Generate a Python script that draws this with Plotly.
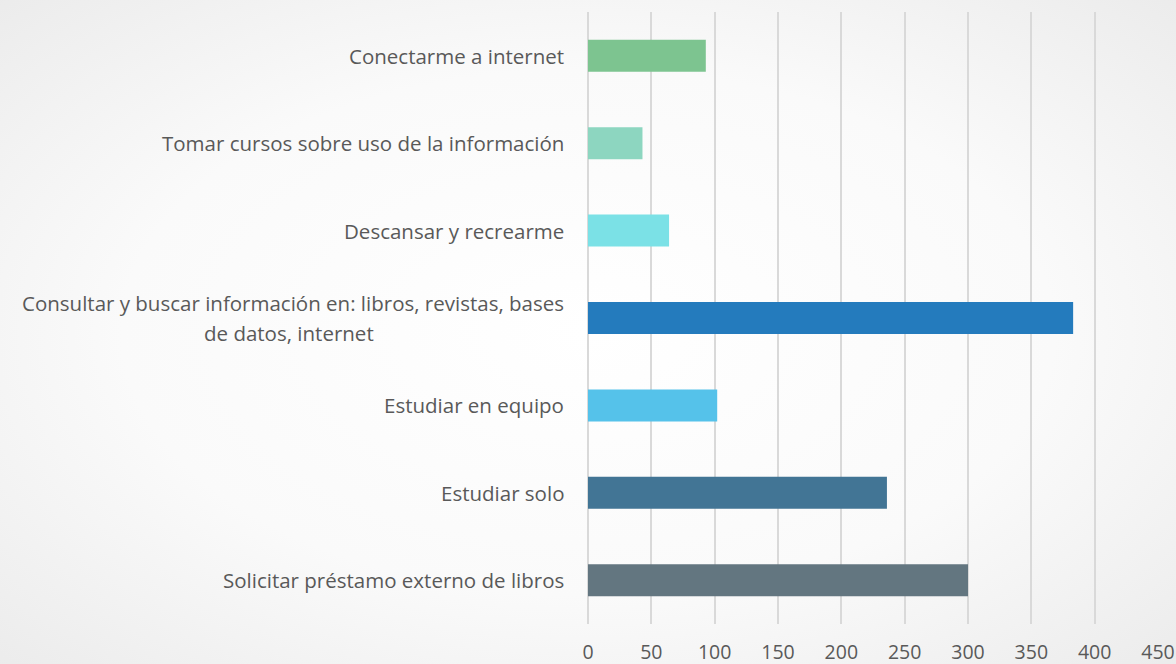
import base64
import plotly.graph_objects as go

categories = [
    "Solicitar préstamo externo de libros",
    "Estudiar solo",
    "Estudiar en equipo",
    "Consultar y buscar información en: libros, revistas, bases<br>de datos, internet",
    "Descansar y recrearme",
    "Tomar cursos sobre uso de la información",
    "Conectarme a internet",
]
values = [300, 236, 102, 383, 64, 43, 93]
colors = ["#637680", "#427595", "#55C2EA", "#247BBD", "#7BE1E6", "#8DD6C0", "#7DC490"]
x_ticks = [0, 50, 100, 150, 200, 250, 300, 350, 400, 450]

W, H = 1176, 664
ML, MR, MT, MB = 588, 18, 12, 40
PW, PH = W - ML - MR, H - MT - MB

svg = (
    f'<svg xmlns="http://www.w3.org/2000/svg" width="{W}" height="{H}" viewBox="0 0 {W} {H}" preserveAspectRatio="none">'
    '<defs><radialGradient id="g" cx="50%" cy="50%" r="72%">'
    '<stop offset="0%" stop-color="#ffffff"/><stop offset="55%" stop-color="#fafafa"/>'
    '<stop offset="100%" stop-color="#ebebeb"/>'
    '</radialGradient></defs>'
    f'<rect width="{W}" height="{H}" fill="url(#g)"/></svg>'
)
bg_uri = "data:image/svg+xml;base64," + base64.b64encode(svg.encode()).decode()

FONT = "Open Sans"
TXT = "#595959"
LABEL_SIZE = 20.5
GAP = 22          # px between label and plot area
LINE_SPACING = 30 # px between wrapped label lines

fig = go.Figure(
    go.Bar(
        x=values,
        y=list(range(len(categories))),
        orientation="h",
        marker=dict(color=colors, line=dict(width=0)),
        hoverinfo="x",
    )
)

annotations = []
for i, c in enumerate(categories):
    lines = c.split("<br>")
    if len(lines) == 1:
        annotations.append(dict(
            x=0, xref="paper", y=i, yref="y", text=c, showarrow=False,
            xanchor="right", yanchor="middle", xshift=-GAP,
            font=dict(family=FONT, size=LABEL_SIZE, color=TXT),
        ))
    else:
        # first line right-aligned, second line centred beneath the first
        first_w = 554
        annotations.append(dict(
            x=0, xref="paper", y=i, yref="y", text=lines[0], showarrow=False,
            xanchor="right", yanchor="middle", xshift=-GAP, yshift=LINE_SPACING / 2,
            font=dict(family=FONT, size=LABEL_SIZE, color=TXT),
        ))
        annotations.append(dict(
            x=0, xref="paper", y=i, yref="y", text=lines[1], showarrow=False,
            xanchor="center", yanchor="middle", xshift=-GAP - first_w / 2,
            yshift=-LINE_SPACING / 2,
            font=dict(family=FONT, size=LABEL_SIZE, color=TXT),
        ))

fig.update_layout(
    width=W, height=H,
    margin=dict(l=ML, r=MR, t=MT, b=MB, autoexpand=False),
    paper_bgcolor="#f2f2f2",
    plot_bgcolor="rgba(0,0,0,0)",
    bargap=0.634,
    showlegend=False,
    annotations=annotations,
    images=[dict(source=bg_uri, xref="paper", yref="paper",
                 x=-ML / PW, y=1 + MT / PH, sizex=W / PW, sizey=H / PH,
                 sizing="stretch", layer="below",
                 xanchor="left", yanchor="top")],
    font=dict(family=FONT, size=19.5, color=TXT),
)

fig.update_xaxes(
    range=[0, 450], tickvals=x_ticks, ticktext=[str(v) for v in x_ticks],
    showgrid=True, gridcolor="#d9d9d9", gridwidth=1.5,
    zeroline=True, zerolinecolor="#d9d9d9", zerolinewidth=1.5,
    showline=False, ticks="", ticklabelstandoff=14, automargin=False,
    tickfont=dict(family=FONT, size=19.5, color=TXT),
)
fig.update_yaxes(
    range=[-0.5, 6.5], showticklabels=False, showgrid=False,
    zeroline=False, showline=False, ticks="", automargin=False,
)

fig.write_html(
    "out.html",
    config={"displayModeBar": False},
    post_script="document.body.style.margin='0';document.body.style.overflow='hidden';",
)
